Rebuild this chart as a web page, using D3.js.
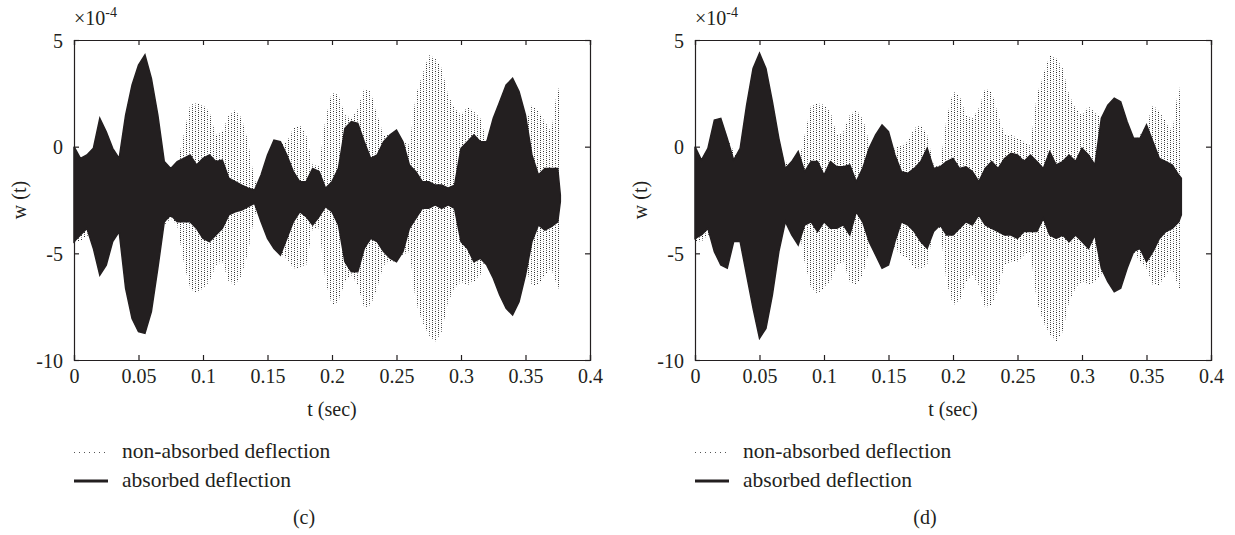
<!DOCTYPE html>
<html>
<head>
<meta charset="utf-8">
<script src="https://cdn.jsdelivr.net/npm/d3@7"></script>
<style>
  body { margin: 0; background: #fff; }
  svg { display: block; }
  text { font-family: "Liberation Serif", "DejaVu Serif", serif; fill: #231f20; }
</style>
</head>
<body>
<div id="chart"></div>
<script>
// sample times (s) of the envelope readings
const tSec = [0, 0.005, 0.01, 0.015, 0.02, 0.025, 0.03, 0.035, 0.04, 0.045,
  0.05, 0.055, 0.06, 0.065, 0.07, 0.075, 0.08, 0.085, 0.09, 0.095,
  0.1, 0.105, 0.11, 0.115, 0.12, 0.125, 0.13, 0.135, 0.14, 0.145,
  0.15, 0.155, 0.16, 0.165, 0.17, 0.175, 0.18, 0.185, 0.19, 0.195,
  0.2, 0.205, 0.21, 0.215, 0.22, 0.225, 0.23, 0.235, 0.24, 0.245,
  0.25, 0.255, 0.26, 0.265, 0.27, 0.275, 0.28, 0.285, 0.29, 0.295,
  0.3, 0.305, 0.31, 0.315, 0.32, 0.325, 0.33, 0.335, 0.34, 0.345,
  0.35, 0.355, 0.36, 0.365, 0.37, 0.375, 0.377];

// non-absorbed deflection envelope (x1e-4), same in both panels
const freeUpper = [0, -0.55, -0.55, -0.39, 0.55, 0.39, -0.23, -0.70, 0.08, 1.17,
  1.33, 1.17, 0.55, -0.08, -0.70, -1.02, -0.86, 0.55, 1.95, 2.03,
  1.95, 1.64, 0.55, 0.70, 1.48, 1.72, 1.33, 0.23, -1.64, -1.48,
  -0.70, -0.08, 0.08, 0.23, 0.86, 1.02, 0.55, -0.86, -0.86, 1.33,
  2.58, 2.42, 1.48, 1.33, 1.80, 2.73, 2.58, 1.48, 0.55, 0.55,
  0.39, 0.23, 0.08, 2.42, 3.36, 4.30, 4.14, 3.67, 2.42, 1.80,
  1.48, 1.88, 1.64, 1.33, 0.23, 0.08, 0.08, 0.08, 0.23, 0.55,
  1.02, 1.95, 1.64, 1.17, 0.70, 2.89, 2.11];
const freeLower = [-4.45, -4.45, -4.14, -4.45, -5.55, -5.39, -4.45, -3.83, -4.77, -6.02,
  -6.33, -6.17, -5.39, -4.45, -3.67, -3.36, -3.67, -5.39, -6.64, -6.88,
  -6.64, -6.33, -5.55, -5.39, -6.33, -6.48, -6.02, -4.92, -3.20, -3.20,
  -4.14, -4.77, -5.08, -5.23, -5.70, -5.70, -5.55, -3.83, -3.83, -6.33,
  -7.42, -7.27, -6.33, -6.02, -6.48, -7.58, -7.42, -6.64, -5.55, -5.39,
  -5.39, -5.08, -4.92, -7.27, -8.20, -8.83, -9.14, -8.67, -7.27, -6.64,
  -6.33, -6.48, -6.33, -6.02, -4.92, -4.77, -4.92, -4.77, -4.92, -5.39,
  -5.70, -6.48, -6.48, -6.02, -5.70, -6.64, -6.64];

// absorbed deflection envelope, panel (c)
const absCUpper = [0.0, -0.55, -0.39, -0.08, 1.33, 0.70, -0.08, -0.55, 1.48, 2.89,
  3.83, 4.30, 3.20, 1.48, -0.70, -1.02, -0.70, -0.55, -0.39, -0.86,
  -0.55, -0.39, -0.70, -0.63, -1.48, -1.64, -1.80, -1.95, -2.03, -1.33,
  -0.39, 0.31, 0.23, -0.39, -1.17, -1.64, -1.64, -1.02, -1.17, -1.95,
  -1.64, -1.02, 0.86, 1.17, 1.09, 0.23, -0.55, -0.39, 0.23, 0.55,
  0.78, 0.23, -0.86, -1.17, -1.64, -1.64, -1.80, -1.80, -1.95, -1.80,
  -0.08, 0.23, 0.55, 0.23, 0.23, 1.33, 2.11, 2.89, 3.20, 2.58,
  1.48, -0.39, -1.33, -1.02, -1.02, -1.02, -2.27];
const absCLower = [-4.45, -4.14, -3.83, -4.77, -6.02, -5.55, -4.45, -3.98, -6.64, -8.05,
  -8.67, -8.75, -7.73, -5.70, -3.52, -3.20, -3.52, -3.52, -3.52, -3.83,
  -4.30, -4.45, -4.14, -3.83, -3.20, -3.05, -2.97, -2.81, -2.66, -3.52,
  -4.30, -4.77, -5.08, -4.30, -3.52, -3.05, -3.28, -3.67, -3.28, -2.81,
  -3.05, -3.67, -5.39, -5.86, -5.86, -4.77, -4.30, -4.45, -4.92, -5.23,
  -5.39, -4.92, -3.83, -3.36, -2.89, -2.89, -2.73, -2.89, -2.73, -2.89,
  -4.45, -4.77, -5.39, -5.23, -5.55, -6.17, -6.95, -7.58, -7.89, -7.27,
  -6.02, -4.45, -3.67, -3.91, -3.75, -3.52, -2.58];

// absorbed deflection envelope, panel (d)
const absDUpper = [0, -0.63, -0.08, 1.25, 1.33, 0.39, -0.63, -0.08, 1.95, 3.67,
  4.38, 3.67, 2.11, 0.39, -1.02, -0.70, -0.23, -1.17, -0.70, -0.70,
  -1.33, -0.70, -0.94, -0.94, -0.86, -1.64, -1.02, -0.08, 0.55, 1.02,
  0.70, -0.39, -1.17, -1.25, -1.02, -0.70, -0.08, -1.02, -0.94, -0.70,
  -0.55, -1.02, -0.94, -1.17, -1.64, -1.02, -0.70, -1.02, -0.55, -0.31,
  -0.39, -0.70, -0.39, -0.70, -1.02, -0.23, -0.86, -0.70, -0.39, -0.70,
  -0.08, -0.39, -0.86, 1.33, 1.95, 2.27, 2.11, 1.17, 0.39, 0.39,
  1.02, 0.23, -0.55, -0.70, -0.86, -1.33, -1.48];
const absDLower = [-4.30, -4.14, -3.83, -4.92, -5.55, -5.70, -4.45, -4.45, -6.02, -7.58,
  -8.98, -8.52, -6.95, -4.92, -3.52, -4.14, -4.61, -3.67, -3.52, -3.98,
  -3.52, -3.83, -3.83, -3.67, -4.14, -3.05, -3.52, -4.45, -5.08, -5.70,
  -5.55, -4.45, -3.52, -3.67, -3.98, -4.45, -4.77, -3.98, -3.67, -4.14,
  -4.14, -3.83, -3.52, -3.67, -3.20, -3.67, -3.83, -3.98, -4.14, -4.14,
  -4.30, -3.98, -3.98, -3.98, -3.36, -4.14, -4.30, -4.14, -4.45, -4.14,
  -4.45, -4.77, -4.14, -5.70, -6.33, -6.80, -6.64, -5.70, -4.92, -4.77,
  -5.39, -4.92, -4.30, -3.98, -3.83, -3.52, -3.20];

const xTicks = [0, 0.05, 0.1, 0.15, 0.2, 0.25, 0.3, 0.35, 0.4];
const yTicks = [5, 0, -5, -10];
const legendLabels = ["non-absorbed deflection", "absorbed deflection"];

const ink = "#231f20";
const W = 1235, H = 535;
const FS = 20;

const svg = d3.select("#chart").append("svg")
    .attr("width", W).attr("height", H);

// dotted vertical hatch used for the dense non-absorbed oscillation
const pat = svg.append("defs").append("pattern")
    .attr("id", "dots")
    .attr("patternUnits", "userSpaceOnUse")
    .attr("width", 6).attr("height", 4);
[[0, 0, "#2a2a2a"], [0, 2, "#6a6a6a"], [3, 1, "#9a9a9a"], [3, 3, "#3a3a3a"]].forEach(([px, py, c]) => {
    pat.append("rect").attr("x", px).attr("y", py)
        .attr("width", 1).attr("height", 1).attr("fill", c);
});

function drawPanel(left, upper, lower, caption) {
    const x = d3.scaleLinear().domain([0, 0.4]).range([left, left + 516]);
    const y = d3.scaleLinear().domain([-10, 5]).range([360, 40]);
    const g = svg.append("g");

    const free = tSec.map((t, i) => ({ t, hi: freeUpper[i], lo: freeLower[i] }));
    const abs = tSec.map((t, i) => ({ t, hi: upper[i], lo: lower[i] }));

    const area = d3.area()
        .x(d => x(d.t))
        .y0(d => y(d.lo))
        .y1(d => y(d.hi));

    g.append("path").datum(free)
        .attr("d", area)
        .attr("fill", "url(#dots)");

    g.append("path").datum(abs)
        .attr("d", area)
        .attr("fill", ink)
        .attr("stroke", ink)
        .attr("stroke-width", 1.5);

    // axes, ticks pointing inward on all four sides
    const bottom = g.append("g").attr("transform", `translate(0,360)`)
        .call(d3.axisBottom(x).tickValues(xTicks).tickSize(-5).tickPadding(9)
            .tickFormat(d => String(d)));
    const top = g.append("g").attr("transform", `translate(0,40)`)
        .call(d3.axisTop(x).tickValues(xTicks).tickSize(-5).tickFormat(""));
    const leftAx = g.append("g").attr("transform", `translate(${left},0)`)
        .call(d3.axisLeft(y).tickValues(yTicks).tickSize(-5).tickPadding(11)
            .tickFormat(d => String(d)));
    const rightAx = g.append("g").attr("transform", `translate(${left + 516},0)`)
        .call(d3.axisRight(y).tickValues(yTicks).tickSize(-5).tickFormat(""));

    [bottom, top, leftAx, rightAx].forEach(a => {
        a.select(".domain").attr("stroke", ink).attr("stroke-width", 1.2);
        a.selectAll(".tick line").attr("stroke", ink).attr("stroke-width", 1.2);
        a.selectAll("text").attr("font-size", FS)
            .attr("font-family", "Liberation Serif").attr("fill", ink);
    });
    leftAx.selectAll("text").attr("dy", "0.35em");

    // exponent label
    const ex = g.append("text").attr("x", left).attr("y", 25).attr("font-size", FS);
    ex.append("tspan").text("\u00d710");
    ex.append("tspan").attr("dy", -8).attr("font-size", 14).text("-4");

    g.append("text")
        .attr("transform", `translate(${left - 48},200) rotate(-90)`)
        .attr("text-anchor", "middle").attr("font-size", FS)
        .text("w (t)");

    g.append("text")
        .attr("x", left + 258).attr("y", 416)
        .attr("text-anchor", "middle").attr("font-size", FS)
        .text("t (sec)");

    // legend
    g.append("line")
        .attr("x1", left).attr("x2", left + 34)
        .attr("y1", 452.5).attr("y2", 452.5)
        .attr("stroke", "#555").attr("stroke-width", 1)
        .attr("stroke-dasharray", "1,4");
    g.append("text").attr("x", left + 48).attr("y", 458)
        .attr("font-size", 21.5).text(legendLabels[0]);
    g.append("line")
        .attr("x1", left).attr("x2", left + 34)
        .attr("y1", 481).attr("y2", 481)
        .attr("stroke", ink).attr("stroke-width", 3);
    g.append("text").attr("x", left + 48).attr("y", 487)
        .attr("font-size", 21.5).text(legendLabels[1]);

    g.append("text")
        .attr("x", left + 230).attr("y", 524)
        .attr("text-anchor", "middle").attr("font-size", FS)
        .text(caption);
}

drawPanel(74, absCUpper, absCLower, "(c)");
drawPanel(695, absDUpper, absDLower, "(d)");
</script>
</body>
</html>
